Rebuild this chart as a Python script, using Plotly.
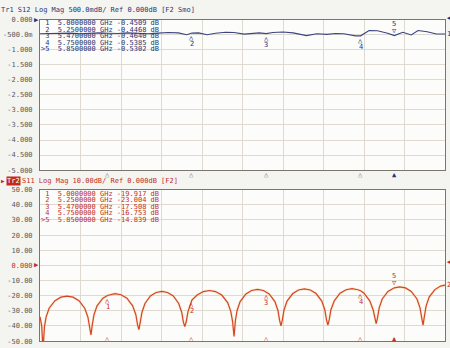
import plotly.graph_objects as go

# ---------------- data ----------------
MARKER_NAMES = ["1", "2", "3", "4", "5"]
MARKER_FREQ = [5.0, 5.25, 5.47, 5.75, 5.85]
S12_MARKER_DB = [-0.4509, -0.4468, -0.4640, -0.5385, -0.5302]
S11_MARKER_DB = [-19.917, -23.004, -17.508, -16.753, -14.839]

S12_FREQ = [4.800, 4.830, 4.860, 4.890, 4.920, 4.950, 4.975, 5.000, 5.030, 5.060,
            5.090, 5.120, 5.150, 5.180, 5.210, 5.235, 5.250, 5.270, 5.295, 5.320,
            5.350, 5.375, 5.405, 5.430, 5.450, 5.470, 5.490, 5.520, 5.550, 5.590,
            5.620, 5.650, 5.675, 5.700, 5.735, 5.750, 5.775, 5.800, 5.830, 5.850,
            5.875, 5.900, 5.920, 5.947, 5.975, 6.000]
S12_DB = [-0.47, -0.46, -0.44, -0.45, -0.47, -0.45, -0.44, -0.4509, -0.46, -0.44,
          -0.45, -0.47, -0.45, -0.43, -0.44, -0.50, -0.4468, -0.44, -0.50, -0.45,
          -0.42, -0.43, -0.48, -0.45, -0.44, -0.4640, -0.43, -0.41, -0.44, -0.53,
          -0.47, -0.49, -0.46, -0.47, -0.54, -0.5385, -0.36, -0.37, -0.45, -0.5302,
          -0.42, -0.51, -0.36, -0.40, -0.48, -0.48]

S11_FREQ = [4.800, 4.805, 4.809, 4.813, 4.818, 4.827, 4.8445, 4.862, 4.880, 4.898, 4.9155, 4.9325, 4.942, 4.947,
            4.951, 4.955, 4.960, 4.969, 4.9865, 5.000, 5.022, 5.040, 5.0575, 5.0745, 5.084, 5.089,
            5.093, 5.097, 5.102, 5.111, 5.127, 5.144, 5.161, 5.178, 5.195, 5.211, 5.220, 5.225,
            5.229, 5.2334, 5.2385, 5.250, 5.2655, 5.284, 5.302, 5.320, 5.3385, 5.356, 5.3655, 5.3706,
            5.375, 5.379, 5.384, 5.393, 5.410, 5.427, 5.4445, 5.462, 5.470, 5.479, 5.496, 5.505, 5.510,
            5.514, 5.518, 5.523, 5.532, 5.549, 5.566, 5.5835, 5.601, 5.618, 5.635, 5.644, 5.649,
            5.653, 5.657, 5.662, 5.672, 5.689, 5.707, 5.7245, 5.742, 5.750, 5.760, 5.777, 5.787, 5.792,
            5.796, 5.800, 5.805, 5.814, 5.831, 5.850, 5.8655, 5.883, 5.900, 5.917, 5.926, 5.931,
            5.935, 5.939, 5.944, 5.953, 5.970, 5.987, 6.000]
S11_DB = [-34.0, -40.0, -56.0, -40.8, -34.2, -28.3, -23.3, -21.0, -20.3, -21.0, -23.3, -28.3, -34.2, -40.8,
          -46.0, -39.2, -32.6, -26.7, -21.7, -19.917, -18.7, -19.4, -21.7, -26.7, -32.6, -39.2,
          -42.5, -37.7, -31.1, -25.2, -20.2, -17.9, -17.2, -17.9, -20.2, -25.2, -31.1, -37.7,
          -40.5, -37.1, -30.5, -23.004, -19.6, -17.3, -16.6, -17.3, -19.6, -24.6, -30.5, -37.1,
          -47.0, -36.4, -29.8, -23.9, -18.9, -16.6, -15.9, -16.6, -17.508, -18.9, -23.9, -29.8, -36.4,
          -40.0, -36.1, -29.5, -23.6, -18.6, -16.3, -15.6, -16.3, -18.6, -23.6, -29.5, -36.1,
          -39.5, -35.9, -29.3, -23.4, -18.4, -16.1, -15.4, -16.1, -16.753, -18.4, -23.4, -29.3, -35.9,
          -38.5, -34.7, -28.1, -22.2, -17.2, -14.839, -14.2, -14.9, -17.2, -22.2, -28.1, -34.7,
          -39.5, -33.5, -26.9, -21.0, -16.0, -13.7, -13.0]

Y1_TICKS = [0, -0.5, -1.0, -1.5, -2.0, -2.5, -3.0, -3.5, -4.0, -4.5, -5.0]
Y1_LABELS = ["0.000", "-500.0m", "-1.000", "-1.500", "-2.000", "-2.500",
             "-3.000", "-3.500", "-4.000", "-4.500", "-5.000"]
Y2_TICKS = [50, 40, 30, 20, 10, 0, -10, -20, -30, -40, -50]
Y2_LABELS = ["50.00", "40.00", "30.00", "20.00", "10.00", "0.000",
             "-10.00", "-20.00", "-30.00", "-40.00", "-50.00"]

TITLE1 = "Tr1 S12 Log Mag 500.0mdB/ Ref 0.000dB [F2 Smo]"
TITLE2_TAG = "Tr2"
TITLE2 = "S11 Log Mag 10.00dB/ Ref 0.000dB [F2]"

# ---------------- styling ----------------
W, H = 450, 348
NAVY = "#2c3470"
RED = "#c0301e"
TRACE_RED = "#d4432a"
GRID = "#dedad2"
FRAME = "#7a756e"
TICKC = "#5a5855"
MONO = "DejaVu Sans Mono, Liberation Mono, monospace"

def px(xp):
    return xp / W

def py(yp):
    return 1 - yp / H

X0, X1 = 40, 445
TOP_T, TOP_B = 16, 170
BOT_T, BOT_B = 190, 345

fig = go.Figure()
fig.add_trace(go.Scatter(x=S12_FREQ, y=S12_DB, mode="lines",
                         line=dict(color="#3a4582", width=1.1),
                         xaxis="x", yaxis="y", showlegend=False, hoverinfo="skip"))
fig.add_trace(go.Scatter(x=S11_FREQ, y=S11_DB, mode="lines",
                         line=dict(color="rgba(240,205,120,0.35)", width=2.6),
                         xaxis="x2", yaxis="y2", showlegend=False, hoverinfo="skip"))
fig.add_trace(go.Scatter(x=S11_FREQ, y=S11_DB, mode="lines",
                         line=dict(color=TRACE_RED, width=1.2),
                         xaxis="x2", yaxis="y2", showlegend=False, hoverinfo="skip"))

axis_common = dict(showgrid=True, gridcolor=GRID, gridwidth=1, zeroline=False,
                   showline=True, mirror=True, linecolor=FRAME, linewidth=1)

ticktext2 = [f'<span style="color:{RED}">{t}</span>' if v == 0 else t
             for v, t in zip(Y2_TICKS, Y2_LABELS)]

fig.update_layout(
    width=W, height=H, margin=dict(l=0, r=0, t=0, b=0),
    paper_bgcolor="#f4f4f1", plot_bgcolor="#fcfcfa",
    xaxis=dict(domain=[px(X0), px(X1)], range=[4.8, 6.0], tick0=4.8, dtick=0.12,
               showticklabels=False, ticks="", anchor="y", **axis_common),
    yaxis=dict(domain=[py(TOP_B), py(TOP_T)], range=[-5, 0], tickvals=Y1_TICKS,
               ticktext=Y1_LABELS, ticks="outside", ticklen=5, tickcolor="rgba(0,0,0,0)",
               tickfont=dict(family=MONO, size=7, color=TICKC), anchor="x", **axis_common),
    xaxis2=dict(domain=[px(X0), px(X1)], range=[4.8, 6.0], tick0=4.8, dtick=0.12,
                showticklabels=False, ticks="", anchor="y2", **axis_common),
    yaxis2=dict(domain=[py(BOT_B), py(BOT_T)], range=[-50, 50], tickvals=Y2_TICKS,
                ticktext=ticktext2, ticks="outside", ticklen=5, tickcolor="rgba(0,0,0,0)",
                tickfont=dict(family=MONO, size=7, color=TICKC), anchor="x2", **axis_common),
)

ann = []
NB = "\u00a0"

def txt(x, y, text, color, size=7, xanchor="left", yanchor="middle", xref="paper",
        yref="paper", yshift=0, xshift=0, **kw):
    ann.append(dict(x=x, y=y, xref=xref, yref=yref, text=text, showarrow=False,
                    xanchor=xanchor, yanchor=yanchor, yshift=yshift, xshift=xshift,
                    font=dict(family=MONO, size=size, color=color), borderpad=0, **kw))

# titles
txt(px(0), py(6), TITLE1.replace(" ", NB), NAVY)
txt(px(0), py(181), "▶", RED, size=6)
txt(px(6), py(181), TITLE2_TAG, "white", bgcolor="#c42a1c")
txt(px(21), py(181), TITLE2.replace(" ", NB), RED)

# marker tables
row_top = [19.5, 26.2, 32.8, 39.5, 46.2]
row_bot = [194.0, 200.7, 207.3, 214.0, 220.7]
for i, name in enumerate(MARKER_NAMES):
    lab = (">" + name) if i == len(MARKER_NAMES) - 1 else (" " + name)
    t1 = f"{lab}  {MARKER_FREQ[i]:.7f} GHz {S12_MARKER_DB[i]:.4f} dB"
    t2 = f"{lab}  {MARKER_FREQ[i]:.7f} GHz {S11_MARKER_DB[i]:.3f} dB"
    txt(px(40), py(row_top[i]), t1.replace(" ", NB), NAVY)
    txt(px(40), py(row_bot[i]), t2.replace(" ", NB), RED)

# markers on traces (top marker 1 is hidden under the readout table in the reference)
for i, name in enumerate(MARKER_NAMES):
    active = i == len(MARKER_NAMES) - 1
    for xr, yr, vals, col in (("x", "y", S12_MARKER_DB, NAVY), ("x2", "y2", S11_MARKER_DB, RED)):
        if xr == "x" and i == 0:
            continue
        f, v = MARKER_FREQ[i], vals[i]
        if active:
            txt(f, v, "▽", col, size=7, xanchor="center", yanchor="bottom", xref=xr, yref=yr)
            txt(f, v, name, col, size=7, xanchor="center", yanchor="bottom", xref=xr, yref=yr, yshift=7)
        else:
            txt(f, v, "△", col, size=7, xanchor="center", yanchor="top", xref=xr, yref=yr)
            txt(f, v, name, col, size=7, xanchor="center", yanchor="top", xref=xr, yref=yr, yshift=-6)
    # axis triangles under each panel
    txt(MARKER_FREQ[i], py(TOP_B), "▲" if active else "△", NAVY if active else "#8a8fae",
        size=7, xanchor="center", yanchor="top", xref="x")
    txt(MARKER_FREQ[i], py(H - 0.5), "▲" if active else "△", RED if active else "#d8604a",
        size=7, xanchor="center", yanchor="bottom", xref="x2")

# reference indicators
txt(px(X0), 0, "▶", NAVY, size=7, xanchor="right", xref="paper", yref="y")
txt(px(X0), 0, "▶", RED, size=7, xanchor="right", xref="paper", yref="y2")
txt(px(X1 + 1), 0, "◀", NAVY, size=7, xref="paper", yref="y", yshift=2)
txt(px(X1 + 1), 0, "◀", RED, size=7, xref="paper", yref="y2", yshift=3)
txt(px(X1 + 1), S12_DB[-1], "1", NAVY, size=7, xref="paper", yref="y")
txt(px(X1 + 1), S11_DB[-1], "2", RED, size=7, xref="paper", yref="y2")

fig.update_layout(annotations=ann)
fig.write_html("out.html")
